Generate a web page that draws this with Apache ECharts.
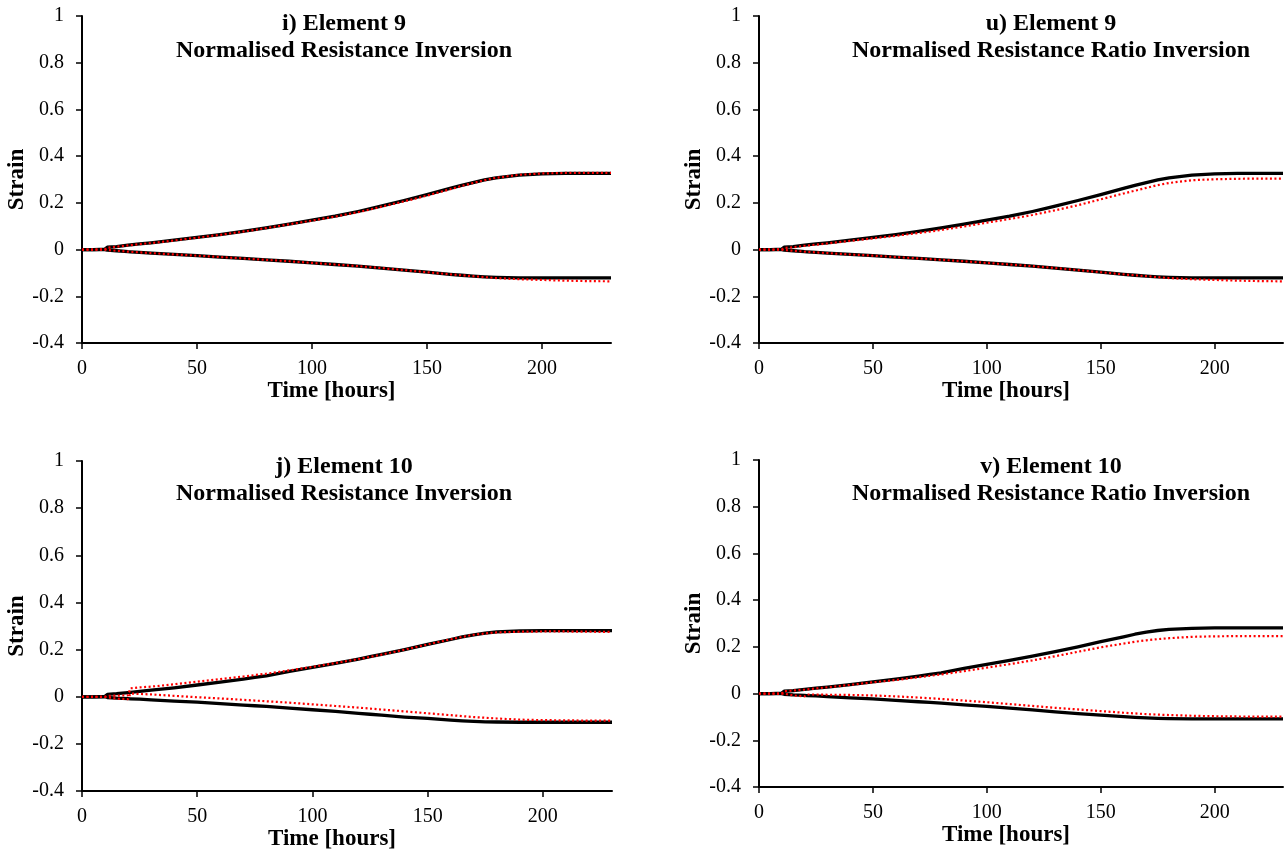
<!DOCTYPE html>
<html>
<head>
<meta charset="utf-8">
<script src="https://cdn.jsdelivr.net/npm/echarts@6/dist/echarts.min.js"></script>
<style>
html,body{margin:0;padding:0;background:#fff;}
#chart{width:1285px;height:852px;}
</style>
</head>
<body>
<div id="chart"></div>
<script>
// Time [hours]
const times = [0,5,10,11,15,20,21,25,30,40,50,60,70,75,80,90,100,110,120,125,130,140,150,160,165,170,175,180,190,200,210,220,230];

// Element 9 measured (black)
const e9MeasUpper = [0,0,0.002,0.01,0.013,0.019,0.02,0.024,0.029,0.04,0.052,0.064,0.078,0.085,0.093,0.109,0.126,0.143,0.163,0.174,0.186,0.21,0.235,0.262,0.275,0.287,0.298,0.307,0.319,0.324,0.326,0.326,0.326];
const e9MeasLower = [0,0,0,-0.002,-0.005,-0.009,-0.0095,-0.012,-0.015,-0.021,-0.026,-0.032,-0.038,-0.041,-0.044,-0.05,-0.057,-0.064,-0.071,-0.075,-0.079,-0.088,-0.097,-0.106,-0.11,-0.114,-0.117,-0.119,-0.121,-0.121,-0.121,-0.121,-0.121];
// Element 9 normalised resistance inversion (red)
const e9ResUpper = [0,0,0.001,0.008,0.012,0.018,0.019,0.023,0.028,0.039,0.051,0.063,0.077,0.084,0.092,0.108,0.124,0.141,0.16,0.171,0.183,0.206,0.231,0.258,0.272,0.285,0.297,0.307,0.32,0.326,0.328,0.328,0.328];
const e9ResLower = [0,0,0,-0.002,-0.005,-0.009,-0.0095,-0.012,-0.015,-0.021,-0.026,-0.032,-0.038,-0.041,-0.044,-0.05,-0.057,-0.064,-0.071,-0.075,-0.079,-0.088,-0.097,-0.106,-0.11,-0.114,-0.118,-0.122,-0.127,-0.13,-0.133,-0.135,-0.136];
// Element 9 normalised resistance ratio inversion (red)
const e9RatioUpper = [0,0,0.001,0.007,0.01,0.016,0.017,0.021,0.026,0.037,0.048,0.059,0.071,0.077,0.084,0.099,0.115,0.131,0.148,0.158,0.168,0.19,0.215,0.24,0.252,0.264,0.276,0.285,0.297,0.301,0.303,0.304,0.304];
const e9RatioLower = [0,0,0,-0.002,-0.005,-0.009,-0.0095,-0.012,-0.015,-0.021,-0.026,-0.032,-0.038,-0.041,-0.044,-0.05,-0.057,-0.064,-0.071,-0.075,-0.079,-0.088,-0.097,-0.106,-0.11,-0.114,-0.118,-0.122,-0.127,-0.13,-0.133,-0.135,-0.136];

// Element 10 measured (black)
const e10MeasUpper = [0,0,0.002,0.01,0.013,0.018,0.019,0.023,0.028,0.038,0.05,0.062,0.075,0.082,0.089,0.108,0.125,0.142,0.16,0.17,0.18,0.2,0.222,0.243,0.254,0.263,0.27,0.275,0.279,0.281,0.281,0.281,0.281];
const e10MeasLower = [0,0,0,-0.003,-0.006,-0.008,-0.0085,-0.01,-0.013,-0.018,-0.023,-0.029,-0.035,-0.038,-0.041,-0.048,-0.055,-0.062,-0.07,-0.074,-0.078,-0.086,-0.092,-0.099,-0.102,-0.104,-0.106,-0.107,-0.108,-0.108,-0.108,-0.108,-0.108];
// Element 10 normalised resistance inversion (red)
const e10ResUpper = [0,0,0,0.004,0.005,0.006,0.036,0.04,0.043,0.053,0.064,0.075,0.086,0.092,0.098,0.112,0.127,0.143,0.16,0.169,0.179,0.2,0.222,0.244,0.254,0.263,0.269,0.273,0.276,0.277,0.277,0.276,0.275];
const e10ResLower = [0,0,0,-0.002,-0.008,-0.01,0.014,0.012,0.01,0.004,-0.002,-0.007,-0.013,-0.016,-0.019,-0.025,-0.032,-0.039,-0.046,-0.05,-0.054,-0.062,-0.07,-0.078,-0.082,-0.086,-0.089,-0.092,-0.097,-0.099,-0.1,-0.101,-0.101];
// Element 10 normalised resistance ratio inversion (red)
const e10RatioUpper = [0,0,0,0.01,0.013,0.017,0.018,0.022,0.027,0.037,0.048,0.058,0.07,0.076,0.082,0.096,0.111,0.126,0.142,0.151,0.16,0.179,0.198,0.214,0.222,0.228,0.233,0.237,0.243,0.245,0.246,0.246,0.246];
const e10RatioLower = [0,0,0,0,-0.008,-0.012,-0.004,-0.004,-0.005,-0.006,-0.008,-0.012,-0.017,-0.02,-0.023,-0.03,-0.037,-0.045,-0.053,-0.057,-0.061,-0.068,-0.075,-0.082,-0.085,-0.088,-0.09,-0.092,-0.095,-0.097,-0.098,-0.099,-0.099];

// Axis ticks and labels
const xTicks = [0,50,100,150,200];
const panelTitles = [
  'i) Element 9\nNormalised Resistance Inversion',
  'u) Element 9\nNormalised Resistance Ratio Inversion',
  'j) Element 10\nNormalised Resistance Inversion',
  'v) Element 10\nNormalised Resistance Ratio Inversion'
];
const xName = 'Time [hours]';
const yName = 'Strain';

const panels = [
  {meas:[e9MeasUpper,e9MeasLower], inv:[e9ResUpper,e9ResLower]},
  {meas:[e9MeasUpper,e9MeasLower], inv:[e9RatioUpper,e9RatioLower]},
  {meas:[e10MeasUpper,e10MeasLower], inv:[e10ResUpper,e10ResLower]},
  {meas:[e10MeasUpper,e10MeasLower], inv:[e10RatioUpper,e10RatioLower]}
];

const FONT = 'Liberation Serif';
const grids = [
  {left:82, top:16, width:529, height:327},
  {left:759, top:16, width:524, height:327},
  {left:82, top:461, width:530, height:332},
  {left:759, top:460, width:524, height:327}
];
const titlePos = [
  {left:344, top:10},
  {left:1051, top:10},
  {left:344, top:453},
  {left:1051, top:453}
];

const zip = (xs, ys) => xs.map((x, i) => [x, ys[i]]);

const xAxes = [], yAxes = [], series = [], titles = [];
grids.forEach((g, i) => {
  titles.push({
    text: panelTitles[i], left: titlePos[i].left, top: titlePos[i].top,
    textAlign: 'center', padding: 0,
    textStyle: {fontFamily: FONT, fontWeight: 'bold', fontSize: 24, lineHeight: 27, color: '#000'}
  });
  xAxes.push({
    gridIndex: i, type: 'value', min: 0, max: 230, interval: 50,
    name: xName, nameLocation: 'middle', nameGap: 32,
    nameTextStyle: {fontFamily: FONT, fontWeight: 'bold', fontSize: 23, color: '#000', padding: [0, 30, 0, 0]},
    axisLine: {onZero: false, lineStyle: {color: '#000', width: 2}},
    axisTick: {show: true, inside: false, length: 6, customValues: xTicks, lineStyle: {color: '#000', width: 1.5}},
    axisLabel: {customValues: xTicks, margin: 16, fontFamily: FONT, fontSize: 20, color: '#000'},
    splitLine: {show: false}
  });
  yAxes.push({
    gridIndex: i, type: 'value', min: -0.4, max: 1, interval: 0.2,
    name: yName, nameLocation: 'middle', nameGap: 50,
    nameTextStyle: {fontFamily: FONT, fontWeight: 'bold', fontSize: 23, color: '#000'},
    axisLine: {show: true, lineStyle: {color: '#000', width: 2}},
    axisTick: {show: true, inside: false, length: 6, lineStyle: {color: '#000', width: 1.5}},
    axisLabel: {margin: 18, fontFamily: FONT, fontSize: 20, color: '#000',
      formatter: v => String(Math.round(v * 10) / 10)},
    splitLine: {show: false}
  });
  panels[i].meas.forEach(arr => series.push({
    type: 'line', xAxisIndex: i, yAxisIndex: i, data: zip(times, arr),
    showSymbol: false, symbol: 'none', z: 2, silent: true,
    lineStyle: {color: '#000', width: 3.3, join: 'round'}
  }));
  panels[i].inv.forEach(arr => series.push({
    type: 'line', xAxisIndex: i, yAxisIndex: i, data: zip(times, arr),
    showSymbol: false, symbol: 'none', z: 3, silent: true,
    lineStyle: {color: '#ff0000', width: 2.2, type: [2, 2.5], cap: 'butt'}
  }));
});

const chart = echarts.init(document.getElementById('chart'), null, {renderer: 'canvas'});
chart.setOption({
  animation: false,
  backgroundColor: '#fff',
  title: titles,
  grid: grids,
  xAxis: xAxes,
  yAxis: yAxes,
  series: series
});
</script>
</body>
</html>
